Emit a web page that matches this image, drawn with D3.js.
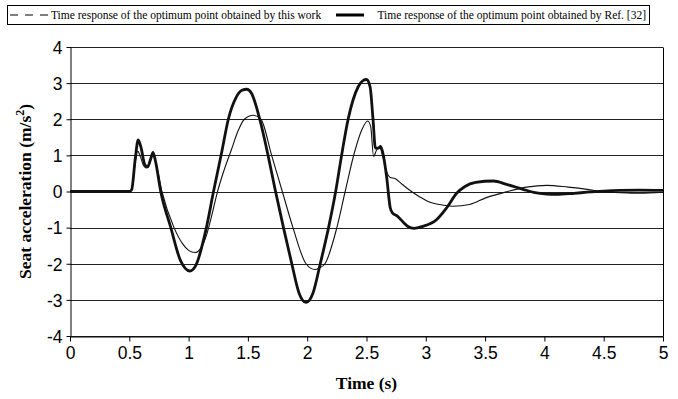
<!DOCTYPE html>
<html>
<head>
<meta charset="utf-8">
<script src="https://cdn.jsdelivr.net/npm/d3@7"></script>
<style>
  body { margin: 0; background: #fff; }
</style>
</head>
<body>
<svg id="chart" width="678" height="399"></svg>
<script>
// time response (t in s, acceleration in m/s^2)
const refTime = [0, 0.5, 0.52, 0.55, 0.575, 0.6, 0.63, 0.655, 0.68, 0.7, 0.72, 0.765, 0.85, 0.93, 0.97, 1.01, 1.06, 1.15, 1.21, 1.28, 1.335, 1.4, 1.45, 1.49, 1.53, 1.6, 1.67, 1.73, 1.8, 1.87, 1.93, 1.99, 2.05, 2.11, 2.18, 2.24, 2.29, 2.345, 2.43, 2.47, 2.5, 2.53, 2.555, 2.575, 2.6, 2.62, 2.645, 2.67, 2.7, 2.72, 2.76, 2.81, 2.85, 2.9, 2.97, 3.09, 3.176, 3.26, 3.33, 3.42, 3.57, 3.68, 3.82, 3.92, 4.02, 4.1, 4.25, 4.36, 4.5, 4.64, 4.8, 5];
const refAccel = [0, 0, 0.05, 0.9, 1.43, 1.2, 0.75, 0.68, 0.9, 1.08, 0.85, 0, -1.0, -1.9, -2.12, -2.2, -2.05, -1.0, 0, 1.1, 2.0, 2.6, 2.8, 2.83, 2.72, 2.0, 1.0, 0.05, -1.0, -2.0, -2.8, -3.07, -2.8, -2.0, -1.0, 0, 1.0, 2.0, 2.9, 3.07, 3.1, 2.9, 2.0, 1.2, 1.2, 1.25, 0.95, 0.4, -0.45, -0.6, -0.68, -0.85, -0.97, -1.02, -0.97, -0.78, -0.45, -0.05, 0.14, 0.25, 0.29, 0.2, 0.06, -0.03, -0.07, -0.08, -0.05, -0.02, 0.01, 0.03, 0.04, 0.03];

const workTime = [0, 0.5, 0.52, 0.55, 0.57, 0.59, 0.62, 0.645, 0.67, 0.7, 0.72, 0.775, 0.877, 0.95, 1.0, 1.054, 1.1, 1.15, 1.2, 1.24, 1.3, 1.36, 1.42, 1.47, 1.546, 1.61, 1.7, 1.79, 1.88, 1.99, 2.066, 2.1, 2.15, 2.25, 2.32, 2.4, 2.46, 2.51, 2.535, 2.56, 2.585, 2.61, 2.64, 2.67, 2.7, 2.74, 2.8, 2.87, 2.95, 3.01, 3.15, 3.23, 3.37, 3.51, 3.69, 3.85, 4.02, 4.2, 4.36, 4.52, 4.64, 4.8, 5];
const workAccel = [0, 0, 0.05, 0.8, 1.12, 1.0, 0.72, 0.65, 0.8, 1.0, 0.85, 0, -1.0, -1.45, -1.63, -1.69, -1.58, -1.22, -0.6, -0.05, 0.6, 1.15, 1.7, 2.0, 2.11, 2.0, 1.0, 0, -1.0, -2.0, -2.16, -2.12, -2.0, -1.0, 0, 1.1, 1.7, 1.95, 1.8, 0.97, 1.15, 1.22, 0.95, 0.55, 0.39, 0.36, 0.2, 0.02, -0.15, -0.26, -0.38, -0.41, -0.36, -0.17, 0, 0.12, 0.17, 0.12, 0.06, -0.02, -0.03, -0.05, -0.02];

const xTicks = [0, 0.5, 1, 1.5, 2, 2.5, 3, 3.5, 4, 4.5, 5];
const yTicks = [-4, -3, -2, -1, 0, 1, 2, 3, 4];

const legendLabels = [
  "Time response of the optimum point obtained by this work",
  "Time response of the optimum point obtained by Ref. [32]"
];

const margin = { left: 70, right: 15, top: 47, bottom: 63 };
const width = 678, height = 399;

const svg = d3.select("#chart");

const x = d3.scaleLinear().domain([0, 5]).range([margin.left, width - margin.right]);
const y = d3.scaleLinear().domain([-4, 4]).range([height - margin.bottom, margin.top]);

// horizontal grid
svg.append("g")
    .attr("stroke", "#222")
    .attr("stroke-width", 1)
  .selectAll("line")
  .data(yTicks)
  .join("line")
    .attr("x1", x(0))
    .attr("x2", x(5))
    .attr("y1", d => Math.round(y(d)) + 0.5)
    .attr("y2", d => Math.round(y(d)) + 0.5);

// right border
svg.append("line")
    .attr("x1", Math.round(x(5)) + 0.5).attr("x2", Math.round(x(5)) + 0.5)
    .attr("y1", Math.round(y(4)) + 0.5).attr("y2", Math.round(y(-4)) + 0.5)
    .attr("stroke", "#000");

const fmt = d => String(d);

const xAxis = svg.append("g")
    .attr("transform", `translate(0,${Math.round(y(-4)) + 0.5})`)
    .call(d3.axisBottom(x).tickValues(xTicks).tickFormat(fmt).tickSizeInner(5).tickSizeOuter(0).tickPadding(5));

const yAxis = svg.append("g")
    .attr("transform", `translate(${Math.round(x(0)) + 0.5},0)`)
    .call(d3.axisLeft(y).tickValues(yTicks).tickFormat(fmt).tickSizeInner(4).tickSizeOuter(0).tickPadding(4));

[xAxis, yAxis].forEach(g => {
  g.select(".domain").attr("stroke", "#000");
  g.selectAll(".tick line").attr("stroke", "#000");
  g.selectAll("text")
      .attr("fill", "#000")
      .attr("font-family", "'Liberation Sans', Arial, sans-serif")
      .attr("font-size", 17.5);
});
yAxis.selectAll("text").attr("dy", "0.36em");
xAxis.selectAll("text").attr("dy", "0.72em");

// curves
const line = d3.line()
    .x(d => x(d[0]))
    .y(d => y(d[1]))
    .curve(d3.curveMonotoneX);

svg.append("path")
    .datum(workTime.map((t, i) => [t, workAccel[i]]))
    .attr("fill", "none")
    .attr("stroke", "#111")
    .attr("stroke-width", 1.1)
    .attr("d", line);

svg.append("path")
    .datum(refTime.map((t, i) => [t, refAccel[i]]))
    .attr("fill", "none")
    .attr("stroke", "#111")
    .attr("stroke-width", 2.8)
    .attr("stroke-linejoin", "round")
    .attr("d", line);

// axis titles
svg.append("text")
    .attr("x", x(2.5))
    .attr("y", 389)
    .attr("text-anchor", "middle")
    .attr("font-family", "'Liberation Serif', 'Times New Roman', serif")
    .attr("font-weight", "bold")
    .attr("font-size", 17.5)
    .text("Time (s)");

const yTitle = svg.append("text")
    .attr("transform", `translate(31,${y(0)}) rotate(-90)`)
    .attr("text-anchor", "middle")
    .attr("font-family", "'Liberation Serif', 'Times New Roman', serif")
    .attr("font-weight", "bold")
    .attr("font-size", 17.5);
yTitle.append("tspan").text("Seat acceleration (m/s");
yTitle.append("tspan").attr("baseline-shift", "super").attr("font-size", 12).text("2");
yTitle.append("tspan").text(")");

// legend
const legend = svg.append("g")
    .attr("font-family", "'Liberation Serif', 'Times New Roman', serif")
    .attr("font-size", 11.5);

legend.append("rect")
    .attr("x", 7.5).attr("y", 5.5)
    .attr("width", 642).attr("height", 19)
    .attr("fill", "#fff")
    .attr("stroke", "#000");

legend.append("line")
    .attr("x1", 10).attr("x2", 48).attr("y1", 15).attr("y2", 15)
    .attr("stroke", "#000").attr("stroke-width", 1.2)
    .attr("stroke-dasharray", "8,7");
legend.append("text").attr("x", 51).attr("y", 19).text(legendLabels[0]);

legend.append("line")
    .attr("x1", 336).attr("x2", 364).attr("y1", 15).attr("y2", 15)
    .attr("stroke", "#000").attr("stroke-width", 3);
legend.append("text")
    .attr("x", 646).attr("y", 19)
    .attr("text-anchor", "end")
    .text(legendLabels[1]);
</script>
</body>
</html>
